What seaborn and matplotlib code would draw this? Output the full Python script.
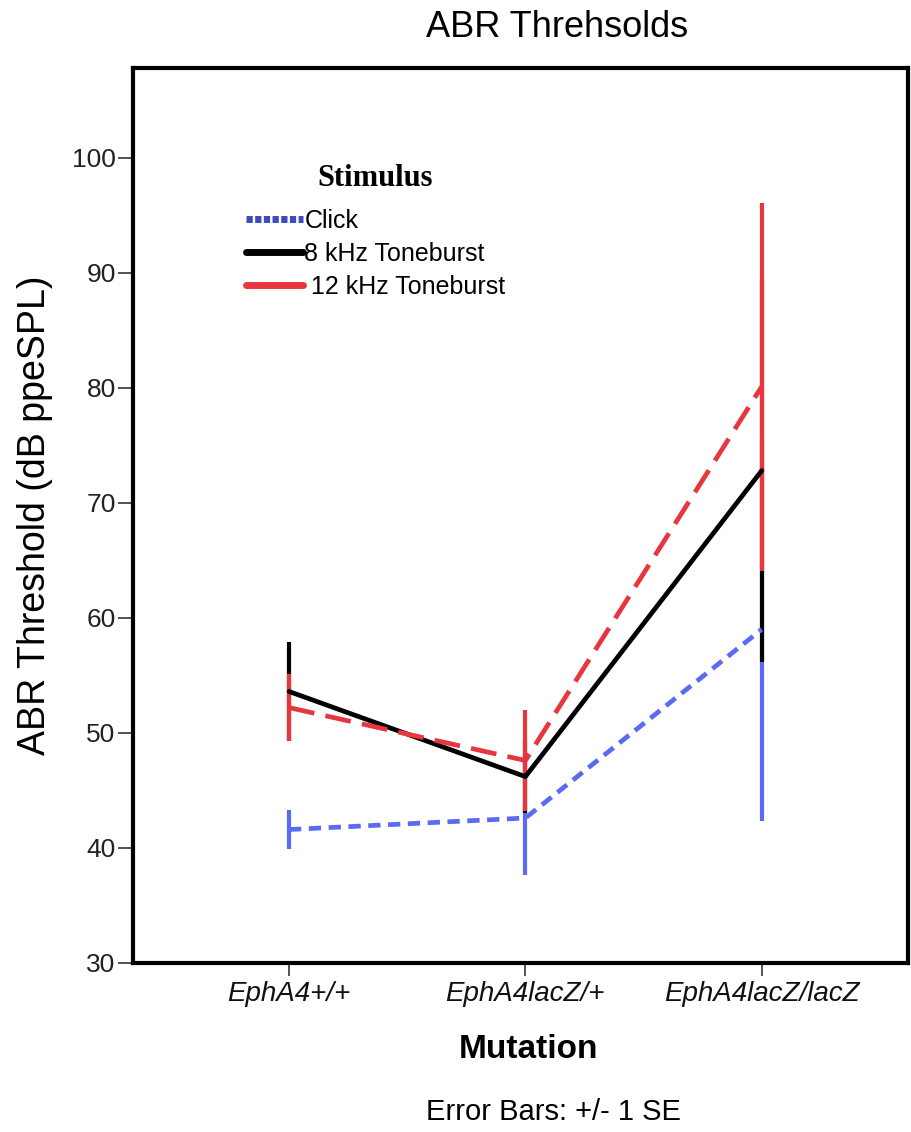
import numpy as np
import pandas as pd
import matplotlib
matplotlib.use("Agg")
import matplotlib.pyplot as plt
import seaborn as sns
from matplotlib.lines import Line2D

# ---- data ----
mutations = ["EphA4+/+", "EphA4lacZ/+", "EphA4lacZ/lacZ"]
stimuli = ["Click", "8 kHz Toneburst", "12 kHz Toneburst"]
click_mean = [41.6, 42.6, 59.0]
click_se = [1.7, 4.95, 16.7]
khz8_mean = [53.6, 46.2, 72.8]
khz8_se = [4.3, 3.2, 16.6]
khz12_mean = [52.2, 47.6, 80.1]
khz12_se = [2.9, 4.4, 16.0]
yticks = [30, 40, 50, 60, 70, 80, 90, 100]

sns.set_theme(style="white")
plt.rcParams['font.family'] = ['Liberation Sans', 'DejaVu Sans']
plt.rcParams['text.color'] = 'black'
plt.rcParams['axes.labelcolor'] = 'black'

rows = []
for s, means, ses in [("Click", click_mean, click_se),
                      ("8 kHz Toneburst", khz8_mean, khz8_se),
                      ("12 kHz Toneburst", khz12_mean, khz12_se)]:
    for i, m in enumerate(mutations):
        rows.append({"Mutation": m, "pos": i, "Stimulus": s,
                     "mean": means[i], "se": ses[i]})
df = pd.DataFrame(rows)

line_colors = {"Click": "#5b6af2", "8 kHz Toneburst": "#000000",
               "12 kHz Toneburst": "#e8363f"}
lw = 3.4

fig = plt.figure(figsize=(9.11, 11.32), dpi=100)
ax = fig.add_axes([0.146, 0.1493, 0.851, 0.7907])

# error bars (blue under black under red)
for z, s in enumerate(stimuli):
    sub = df[df.Stimulus == s]
    ax.errorbar(sub["pos"], sub["mean"], yerr=sub["se"], fmt="none",
                ecolor=line_colors[s], elinewidth=3.0, capsize=0,
                zorder=2 + z)

sns.lineplot(data=df, x="pos", y="mean", hue="Stimulus", style="Stimulus",
             palette=line_colors, hue_order=stimuli, style_order=stimuli,
             dashes={"Click": (2.6, 1.6), "8 kHz Toneburst": "",
                     "12 kHz Toneburst": (5.5, 2.4)},
             linewidth=lw, legend=False, ax=ax, zorder=6, errorbar=None)

ax.set_xlim(-0.66, 2.62)
ax.set_ylim(30, 107.8)
ax.set_yticks(yticks)
ax.set_yticklabels([str(t) for t in yticks], fontsize=19, color="#222222")
ax.set_xticks(range(len(mutations)))
ax.set_xticklabels(mutations, fontsize=20, style="italic", color="#111111")
ax.tick_params(axis="y", direction="out", length=11, width=1.3,
               color="#444444", left=True, pad=1.5)
ax.tick_params(axis="x", direction="out", length=9, width=1.3,
               color="#444444", bottom=True, pad=4)
for sp in ax.spines.values():
    sp.set_linewidth(3)
    sp.set_color("black")

ax.set_xlabel("Mutation", fontsize=24, fontweight="bold", va="center")
ax.xaxis.set_label_coords(0.51, -0.097)
ax.set_ylabel("ABR Threshold (dB ppeSPL)", fontsize=27, va="center")
ax.yaxis.set_label_coords(-0.126, 0.5)

fig.text(0.611, 0.976, "ABR Threhsolds", ha="center", va="center", fontsize=26)
fig.text(0.608, 0.0177, "Error Bars: +/- 1 SE", ha="center", va="center",
         fontsize=21)

handles = [
    Line2D([], [], color="#3b4cc0", lw=5, linestyle=(0, (0.9, 0.35))),
    Line2D([], [], color="black", lw=5),
    Line2D([], [], color="#e8363f", lw=5),
]
leg = ax.legend(handles, ["Click", "8 kHz Toneburst", " 12 kHz Toneburst"],
                title="Stimulus", frameon=False,
                loc="upper left", bbox_to_anchor=(0.129, 0.9067),
                borderpad=0, fontsize=18, handlelength=2.3,
                handletextpad=0.05, labelspacing=0.36)
leg.get_title().set_fontweight("bold")
leg.get_title().set_fontsize(22)
leg.get_title().set_family(["Liberation Serif", "DejaVu Serif"])
leg._legend_box.sep = 11.5

fig.savefig("out.png", dpi=100)
